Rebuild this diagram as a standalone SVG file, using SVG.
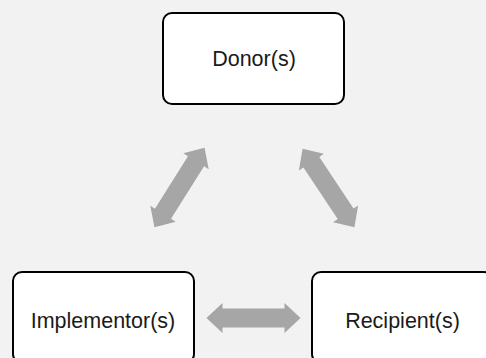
<svg xmlns="http://www.w3.org/2000/svg" width="486" height="358" viewBox="0 0 486 358">
<style>
.box{fill:#ffffff;stroke:#000000;stroke-width:2}
.lbl{font-family:"Liberation Sans",Arial,sans-serif;font-size:21.5px;fill:#1a1a1a;text-anchor:middle}
.arr{fill:#a6a6a6}
</style>
<defs>
<path id="dbl" d="M-47,0 L-31,-15 L-31,-9.5 L31,-9.5 L31,-15 L47,0 L31,15 L31,9.5 L-31,9.5 L-31,15 Z"/>
</defs>
<rect width="486" height="358" fill="#f2f2f2"/>
<g id="connectors">
<use href="#dbl" class="arr" transform="translate(179.5,187.5) rotate(-57.8)"/>
<use href="#dbl" class="arr" transform="translate(328.5,188) rotate(56.5)"/>
<use href="#dbl" class="arr" transform="translate(253.5,318)"/>
</g>
<g id="donor">
<rect class="box" x="163" y="13" width="181" height="91" rx="9"/>
<text class="lbl" x="254" y="66">Donor(s)</text>
</g>
<g id="implementor">
<rect class="box" x="13" y="272" width="181" height="91" rx="9"/>
<text class="lbl" x="103" y="328">Implementor(s)</text>
</g>
<g id="recipient">
<rect class="box" x="312" y="272" width="181" height="91" rx="9"/>
<text class="lbl" x="402.5" y="328">Recipient(s)</text>
</g>
</svg>
